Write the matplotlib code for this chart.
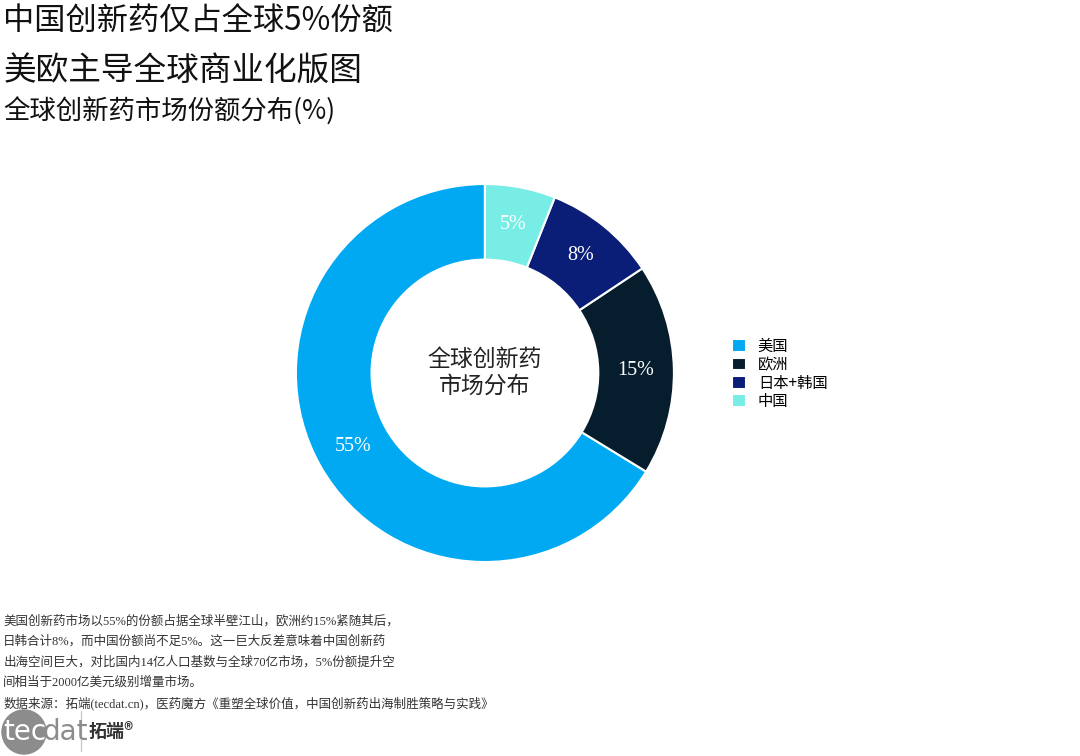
import matplotlib.pyplot as plt
from matplotlib.patches import Circle
import numpy as np

plt.rcParams['font.family'] = ['Liberation Serif', 'Noto Sans CJK SC', 'DejaVu Sans']

# data
regions = ['美国', '欧洲', '日本+韩国', '中国']
shares = [55, 15, 8, 5]
colors = ['#00A9F2', '#061D2E', '#0A1E78', '#78EDE6']

title1 = '中国创新药仅占全球5%份额'
title2 = '美欧主导全球商业化版图'
subtitle = '全球创新药市场份额分布(%)'
center_text = '全球创新药\n市场分布'
note_lines = ['美国创新药市场以55%的份额占据全球半壁江山，欧洲约15%紧随其后，',
              '日韩合计8%，而中国份额尚不足5%。这一巨大反差意味着中国创新药',
              '出海空间巨大，对比国内14亿人口基数与全球70亿市场，5%份额提升空',
              '间相当于2000亿美元级别增量市场。',
              '数据来源：拓端(tecdat.cn)，医药魔方《重塑全球价值，中国创新药出海制胜策略与实践》']

fig = plt.figure(figsize=(10.8, 7.56), dpi=100)
cjk = ['Noto Sans CJK SC', 'DejaVu Sans']

fig.text(0.003, 0.972, title1, fontsize=22.5, family=cjk, va='center', color='#111111')
fig.text(0.003, 0.907, title2, fontsize=23.5, family=cjk, va='center', color='#111111')
fig.text(0.003, 0.852, subtitle, fontsize=19, family=cjk, va='center', color='#111111')

ax = fig.add_axes([0.274, 0.2566, 0.35, 0.5])
wedges, _ = ax.pie(shares, colors=colors, startangle=90, counterclock=True,
                   radius=1, wedgeprops=dict(width=0.4, edgecolor='white', linewidth=1.5))
for w, v in zip(wedges, shares):
    mid = np.deg2rad((w.theta1 + w.theta2) / 2)
    ax.text(0.8 * np.cos(mid), 0.8 * np.sin(mid), f'{v}%', ha='center', va='center',
            color='white', fontsize=14.5, family='Liberation Serif')
ax.text(0, 0.0, center_text, ha='center', va='center', fontsize=16.5, family=cjk,
        color='#222222', linespacing=1.2)
ax.set_xlim(-1, 1)
ax.set_ylim(-1, 1)
ax.set_aspect('equal')
ax.axis('off')

fig.legend(wedges, regions, loc='upper left', bbox_to_anchor=(0.672, 0.561),
           frameon=False, prop={'family': cjk, 'size': 11}, handlelength=0.9,
           handleheight=0.9, handletextpad=0.8, labelspacing=0.08, borderaxespad=0)

# footnote, one text per line for even spacing
for i, line in enumerate(note_lines):
    fig.text(0.003, 1 - (621 + 20.5 * i) / 756, line, fontsize=9,
             family=['Liberation Serif', 'Noto Sans CJK SC'], va='center', color='#333333')

# logo
lax = fig.add_axes([0, 0, 150 / 1080, 50 / 756])
lax.set_xlim(0, 150)
lax.set_ylim(0, 50)
lax.axis('off')
lax.add_patch(Circle((24, 24), 22, color='#8c8c8c'))
lax.text(3, 24, 'tec', fontsize=20, color='white', va='center', family='DejaVu Sans')
lax.text(42, 24, 'dat', fontsize=20, color='#8c8c8c', va='center', family='DejaVu Sans')
lax.plot([81, 81], [5, 45], color='#cccccc', lw=1)
lax.text(89, 25, '拓端®', fontsize=13, color='#333333', va='center', family=cjk,
         fontweight='bold')

fig.savefig('out.png', dpi=100)
